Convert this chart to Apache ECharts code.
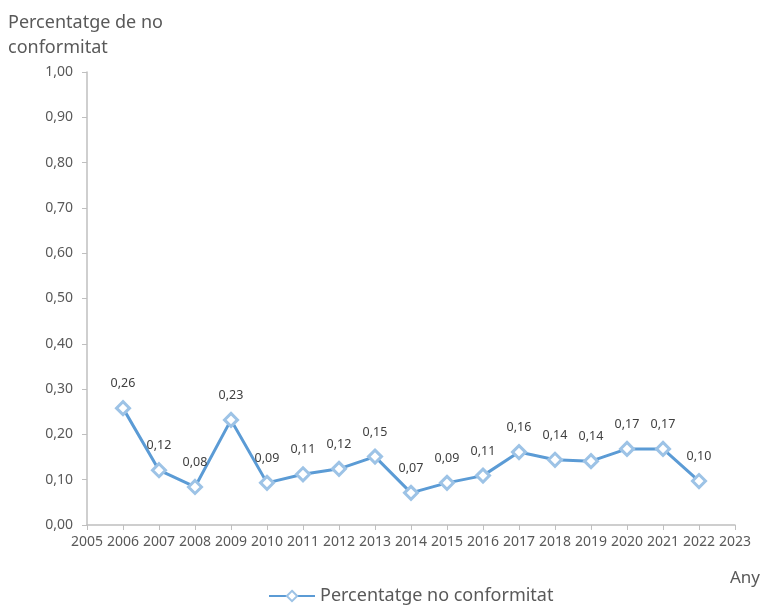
<!DOCTYPE html>
<html>
<head>
<meta charset="utf-8">
<script src="https://cdn.jsdelivr.net/npm/echarts@6/dist/echarts.min.js"></script>
<style>
  html, body { margin: 0; padding: 0; background: #fff; }
  #chart { width: 761px; height: 610px; }
</style>
</head>
<body>
<div id="chart"></div>
<script type="text/javascript">
	var years = [2006, 2007, 2008, 2009, 2010, 2011, 2012, 2013, 2014, 2015, 2016, 2017, 2018, 2019, 2020, 2021, 2022];
	var values = [0.258, 0.121, 0.084, 0.232, 0.093, 0.112, 0.124, 0.151, 0.071, 0.093, 0.109, 0.161, 0.144, 0.141, 0.168, 0.168, 0.097];
	var seriesName = 'Percentatge no conformitat';

	function coma(v, d) {
		return v.toFixed(d).replace('.', ',');
	}

	var points = [];
	for (var i = 0; i < years.length; i++) {
		points.push([years[i], values[i]]);
	}

	var chart = echarts.init(document.getElementById('chart'));
	chart.setOption({
		animation: false,
		textStyle: { fontFamily: 'Noto Sans' },
		title: {
			text: 'Percentatge de no\nconformitat',
			left: 3,
			top: 5,
			textStyle: { fontSize: 18, fontWeight: 'normal', color: '#595959', lineHeight: 25 }
		},
		graphic: [{
			type: 'text',
			right: 1,
			top: 570,
			style: { text: 'Any', fontSize: 17, fill: '#595959', fontFamily: 'Noto Sans' }
		}],
		legend: {
			bottom: 0,
			left: 263,
			itemWidth: 46,
			itemHeight: 13,
			itemGap: 6,
			textStyle: { fontSize: 18, color: '#595959' },
			data: [seriesName]
		},
		grid: { left: 87, right: 26, top: 72, bottom: 85 },
		xAxis: {
			type: 'value',
			min: 2005,
			max: 2023,
			interval: 1,
			axisLine: { lineStyle: { color: '#bfbfbf', width: 1.5 } },
			axisTick: { show: true, length: 5, lineStyle: { color: '#bfbfbf' } },
			splitLine: { show: false },
			axisLabel: {
				fontSize: 14, color: '#595959', margin: 10, showMinLabel: true, showMaxLabel: true,
				formatter: function (v) { return String(v); }
			}
		},
		yAxis: {
			type: 'value',
			min: 0,
			max: 1,
			interval: 0.1,
			axisLine: { show: true, lineStyle: { color: '#bfbfbf', width: 1.5 } },
			axisTick: { show: true, length: 5, lineStyle: { color: '#bfbfbf' } },
			splitLine: { show: false },
			axisLabel: {
				fontSize: 14, color: '#595959', margin: 14,
				formatter: function (v) { return coma(v, 2); }
			}
		},
		series: [{
			name: seriesName,
			type: 'line',
			data: points,
			symbol: 'diamond',
			symbolSize: 13,
			lineStyle: { color: '#5b9bd5', width: 3 },
			itemStyle: { color: '#ffffff', borderColor: '#9dc3e6', borderWidth: 3 },
			label: {
				show: true,
				position: 'top',
				distance: 10,
				fontSize: 12.5,
				color: '#404040',
				formatter: function (p) { return coma(p.value[1], 2); }
			}
		}]
	});
</script>
</body>
</html>
